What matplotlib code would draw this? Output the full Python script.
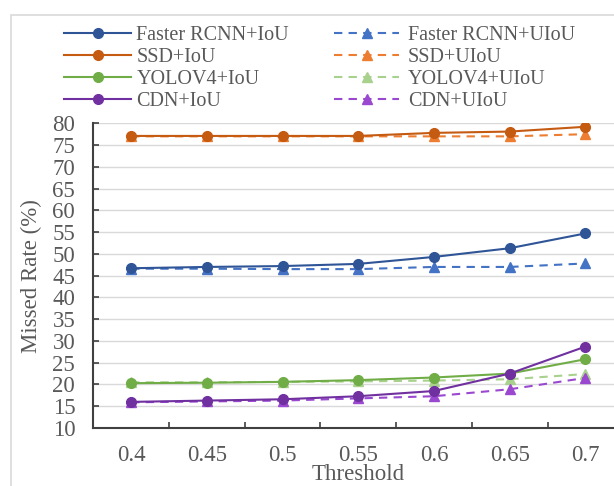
import matplotlib
matplotlib.use("Agg")
import matplotlib.pyplot as plt
from matplotlib.patches import Rectangle

plt.rcParams['font.family'] = ['Liberation Serif', 'DejaVu Serif']

thresholds = ["0.4", "0.45", "0.5", "0.55", "0.6", "0.65", "0.7"]
frcnn_iou = [46.7, 47.0, 47.2, 47.7, 49.3, 51.3, 54.7]
frcnn_uiou = [46.6, 46.6, 46.5, 46.5, 47.0, 47.0, 47.8]
ssd_iou = [77.1, 77.1, 77.1, 77.1, 77.8, 78.1, 79.2]
ssd_uiou = [77.0, 77.0, 77.0, 77.0, 77.0, 77.0, 77.5]
yolo_iou = [20.3, 20.4, 20.6, 21.0, 21.6, 22.5, 25.8]
yolo_uiou = [20.5, 20.5, 20.6, 20.7, 20.9, 21.2, 22.4]
cdn_iou = [16.0, 16.3, 16.6, 17.3, 18.5, 22.5, 28.7]
cdn_uiou = [15.9, 16.1, 16.3, 16.8, 17.3, 18.9, 21.5]

iou_series = [
    ("Faster RCNN+IoU", frcnn_iou, '#2F5597'),
    ("SSD+IoU", ssd_iou, '#C55A11'),
    ("YOLOV4+IoU", yolo_iou, '#70AD47'),
    ("CDN+IoU", cdn_iou, '#7030A0'),
]
uiou_series = [
    ("Faster RCNN+UIoU", frcnn_uiou, '#4472C4'),
    ("SSD+UIoU", ssd_uiou, '#ED7D31'),
    ("YOLOV4+UIoU", yolo_uiou, '#A9D18E'),
    ("CDN+UIoU", cdn_uiou, '#9A48D0'),
]

W, H = 614, 486
fig = plt.figure(figsize=(W / 100, H / 100), dpi=100)
fig.patch.set_facecolor('white')

# outer chart border (top-left corner visible, rest cropped)
fig.patches.append(Rectangle((11 / W, -0.2), 1.5, 0.2 + (1 - 15 / H),
                             transform=fig.transFigure, fill=False,
                             edgecolor='#d9d9d9', linewidth=1.2))

left, right, bottom, top = 93.3, 623.2, 428.0, 123.3
ax = fig.add_axes([left / W, 1 - bottom / H, (right - left) / W, (bottom - top) / H])

xpos = list(range(len(thresholds)))
handles_iou, handles_uiou = [], []
for (lab_a, ya, ca), (lab_b, yb, cb) in zip(iou_series, uiou_series):
    hb, = ax.plot(xpos, yb, color=cb, lw=1.5, ls=(0, (4, 3)), marker='^', ms=7,
                  markerfacecolor=cb, markeredgecolor=cb, label=lab_b, zorder=3)
    ha, = ax.plot(xpos, ya, color=ca, lw=1.5, marker='o', ms=7,
                  markerfacecolor=ca, markeredgecolor=ca, label=lab_a, zorder=4)
    handles_iou.append(ha)
    handles_uiou.append(hb)

ax.set_xlim(-0.5, len(thresholds) - 0.5)
ax.set_ylim(10, 80)
ax.set_yticks(range(10, 81, 5))
ax.set_xticks(xpos)
ax.set_xticklabels(thresholds)
ax.set_xticks([i + 0.5 for i in range(len(thresholds))], minor=True)

ax.grid(axis='y', color='#d9d9d9', lw=1.0, zorder=0)
ax.set_axisbelow(True)
for s in ['top', 'right']:
    ax.spines[s].set_visible(False)
for s in ['left', 'bottom']:
    ax.spines[s].set_color('#404040')
    ax.spines[s].set_linewidth(1.5)

ax.tick_params(axis='y', direction='in', length=4, width=1.2, color='#404040',
               labelsize=16.5, labelcolor='#595959', pad=13)
ax.tick_params(axis='x', which='major', length=0, labelsize=16.5,
               labelcolor='#595959', pad=12.5)
ax.tick_params(axis='x', which='minor', direction='in', length=4, width=1.2,
               color='#404040')

ax.set_ylabel("Missed Rate (%)", fontsize=16.5, color='#595959')
ax.set_xlabel("Threshold", fontsize=16.5, color='#595959', labelpad=-1.5)
ax.yaxis.set_label_coords(0, 0.5)
ax.yaxis.label.set_transform(fig.transFigure)
ax.yaxis.label.set_verticalalignment('center')
ax.yaxis.label.set_position((31 / W, 1 - ((top + bottom) / 2) / H))

leg_kw = dict(frameon=False, fontsize=14.5, borderpad=0, borderaxespad=0,
              labelspacing=0.15, labelcolor='#595959', loc='upper left',
              bbox_transform=fig.transFigure)
leg1 = fig.legend(handles=handles_iou, bbox_to_anchor=(64 / W, 1 - 25.5 / H),
                  handlelength=3.33, handletextpad=0.26, **leg_kw)
leg2 = fig.legend(handles=handles_uiou, bbox_to_anchor=(334 / W, 1 - 25.5 / H),
                  handlelength=3.23, handletextpad=0.45, **leg_kw)

fig.savefig("out.png", dpi=100, facecolor='white')
